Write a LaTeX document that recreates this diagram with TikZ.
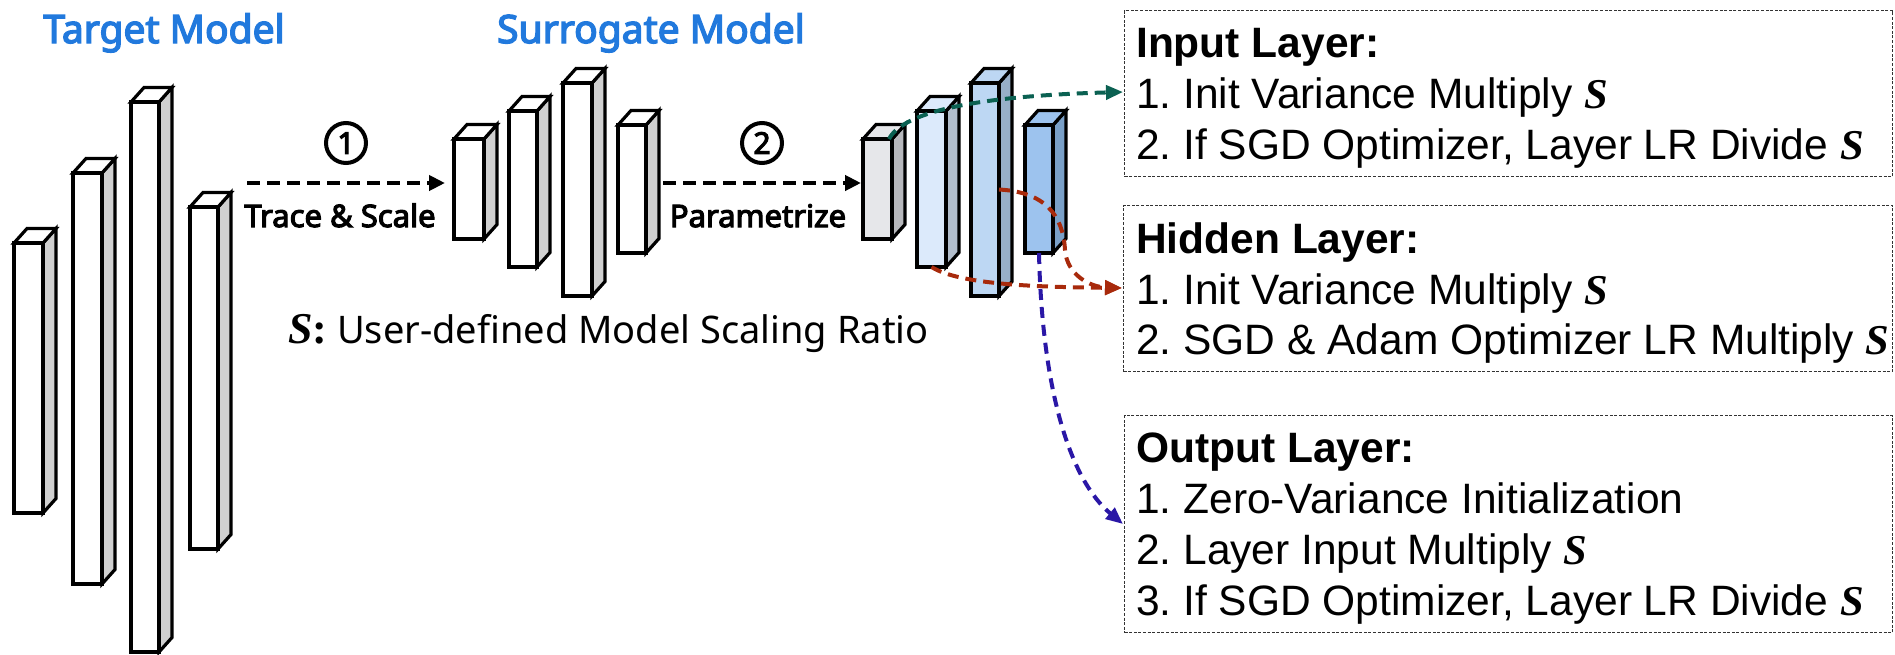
\documentclass[tikz,border=0pt]{standalone}
\usepackage{fontspec}
\setmainfont{Liberation Sans}
\newfontfamily\headfont{Noto Sans}
\newfontfamily\headbold{Noto Sans}[FakeBold=3.6]
\newfontfamily\serifS{Liberation Serif}
\usetikzlibrary{arrows.meta}
\frenchspacing

\definecolor{titleblue}{HTML}{2179DD}
\definecolor{sidegray}{HTML}{D0D0D0}
\definecolor{inFront}{HTML}{E6E7EA}
\definecolor{inSide}{HTML}{B7B8BC}
\definecolor{hidFrontA}{HTML}{DCEAFB}
\definecolor{hidSideA}{HTML}{B2BECC}
\definecolor{hidFrontB}{HTML}{BDD7F3}
\definecolor{hidSideB}{HTML}{98AFC8}
\definecolor{outFront}{HTML}{9DC3EE}
\definecolor{outSide}{HTML}{7AA0C8}
\definecolor{greenArrow}{HTML}{0B6152}
\definecolor{redArrow}{HTML}{A82A0C}
\definecolor{blueArrow}{HTML}{2A17A6}

% scaling ratio symbol
\newcommand{\ratioS}{{\serifS\bfseries\itshape S}}

% one 3-D layer block: name, left, top, right, bottom, front colour, side colour
\newcommand{\layerbox}[7]{%
  \filldraw[layerface, fill=#7] (#4,#3) -- ++(13,-14.5) -- ({#4+13},{#5-14.5}) -- (#4,#5) -- cycle;
  \filldraw[layerface, fill=#6] (#2,#3) -- ++(13,-14.5) -- ({#4+13},{#3-14.5}) -- (#4,#3) -- cycle;
  \node[layerfront, fill=#6, minimum width={#4-#2}, minimum height={#5-#3}] (#1) at (#2,#3) {};
}

\begin{document}
\begin{tikzpicture}[x=1pt,y=-1pt,
  layerface/.style={draw=black, line width=3.2pt, line join=miter},
  layerfront/.style={draw=black, line width=3.2pt, inner sep=0pt, outer sep=0pt, anchor=north west},
  flowarrow/.style={line width=4pt, dash pattern=on 13pt off 7pt, -{Triangle[length=16pt,width=15pt]}},
  linkarrow/.style={line width=4pt, dash pattern=on 11pt off 7pt, -{Triangle[length=17pt,width=14pt]}},
  notebox/.style={draw=black!80, line width=1.1pt, dash pattern=on 3pt off 1.6pt, anchor=north west, inner sep=0pt},
  noteline/.style={anchor=base west, inner sep=0pt, font=\fontsize{42.5}{51}\selectfont},
  notehead/.style={anchor=base west, inner sep=0pt, font=\fontsize{42.5}{51}\selectfont\bfseries},
  modeltitle/.style={anchor=base, inner sep=0pt, text=titleblue, font=\headbold\fontsize{39}{39}\selectfont},
  steplabel/.style={anchor=base, inner sep=0pt, font=\headbold\fontsize{31}{31}\selectfont},
  stepnum/.style={circle, draw, line width=4pt, minimum size=40pt, inner sep=0pt, font=\headbold\fontsize{30}{30}\selectfont},
]
\useasboundingbox (0,0) rectangle (1895,654);

% titles
\node[modeltitle] (ttitle) at (164,43) {Target Model};
\node[modeltitle] (stitle) at (651,43) {Surrogate Model};

% target model
\layerbox{tA}{14}{243}{43}{513}{white}{sidegray}
\layerbox{tB}{73}{173}{102}{584}{white}{sidegray}
\layerbox{tC}{131}{102}{159}{652}{white}{sidegray}
\layerbox{tD}{190}{207}{218}{549}{white}{sidegray}

% surrogate model
\layerbox{sA}{454}{139}{484}{239}{white}{sidegray}
\layerbox{sB}{509}{111}{537}{267}{white}{sidegray}
\layerbox{sC}{563}{83}{592}{296}{white}{sidegray}
\layerbox{sD}{618}{125}{646}{253}{white}{sidegray}

% parametrized surrogate model
\layerbox{pA}{863}{139}{892}{239}{inFront}{inSide}
\layerbox{pB}{917}{111}{946}{267}{hidFrontA}{hidSideA}
\layerbox{pC}{971}{83}{999}{296}{hidFrontB}{hidSideB}
\layerbox{pD}{1025}{125}{1053}{253}{outFront}{outSide}

% step 1 and step 2
\coordinate (f1s) at (247,183);
\coordinate (f1e) at (445,183);
\coordinate (f2s) at (663,183);
\coordinate (f2e) at (861,183);
\draw[flowarrow] (f1s) -- (f1e);
\draw[flowarrow] (f2s) -- (f2e);
\node[stepnum] (n1) at (346,143) {1};
\node[stepnum] (n2) at (762,143) {2};
\node[steplabel] (l1) at (340,227) {Trace \& Scale};
\node[steplabel] (l2) at (758,227) {Parametrize};

% scaling ratio legend
\node[anchor=base west, inner sep=0pt] (ratio) at (288,343)
  {{\fontsize{44}{44}\selectfont\ratioS{\serifS\bfseries:}}{\headfont\fontsize{38}{40}\selectfont\ User-defined Model Scaling Ratio}};

% rule boxes
\node[notebox, minimum width=768, minimum height=166] (inbox) at (1124,10) {};
\node[notebox, minimum width=769, minimum height=166] (hidbox) at (1123,205) {};
\node[notebox, minimum width=768, minimum height=217] (outbox) at (1124,415) {};

\node[notehead] (in0) at (1136,57) {Input Layer:};
\node[noteline] (in1) at (1136,108) {1. Init Variance Multiply \ratioS};
\node[noteline] (in2) at (1136,159) {2. If SGD Optimizer, Layer LR Divide \ratioS};

\node[notehead] (hid0) at (1136,253) {Hidden Layer:};
\node[noteline] (hid1) at (1136,304) {1. Init Variance Multiply \ratioS};
\node[noteline] (hid2) at (1136,354) {2. SGD \& Adam Optimizer LR Multiply \ratioS};

\node[notehead] (out0) at (1136,462) {Output Layer:};
\node[noteline] (out1) at (1136,513) {1. Zero-Variance Initialization};
\node[noteline] (out2) at (1136,564) {2. Layer Input Multiply \ratioS};
\node[noteline] (out3) at (1136,615) {3. If SGD Optimizer, Layer LR Divide \ratioS};

% layer-to-rule connectors
\coordinate (gEnd) at (1123,92);
\coordinate (rEnd) at (1122,288);
\coordinate (bEnd) at (1123,524);
\draw[linkarrow, greenArrow] ([xshift=-3pt]pA.north east) .. controls (903,112) and (975,96) .. (gEnd);
\draw[linkarrow, redArrow] (pC.east) .. controls (1045,192) and (1063,215) .. (1065,250) .. controls (1067,275) and (1090,287) .. (rEnd);
\draw[linkarrow, redArrow] (pB.south) .. controls (960,285) and (1040,287) .. (rEnd);
\draw[linkarrow, blueArrow] (pD.south) .. controls (1042,390) and (1070,480) .. (bEnd);
\end{tikzpicture}
\end{document}
